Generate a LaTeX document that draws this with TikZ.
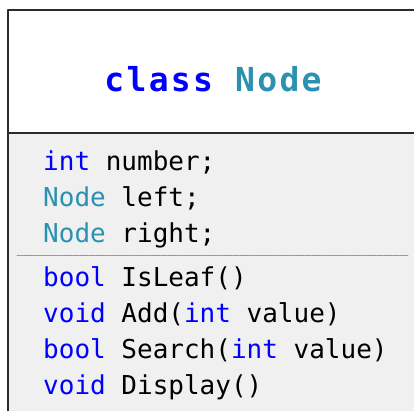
\documentclass[tikz,border=0pt]{standalone}
\usepackage{fontspec}
\usepackage{tikz}
\newfontfamily\codefont{DejaVu Sans Mono}
\newfontfamily\headfont[LetterSpace=7]{DejaVu Sans Mono}
\definecolor{qqqqff}{rgb}{0,0,1}
\definecolor{cbjjaf}{rgb}{0.17,0.57,0.69}
\definecolor{fzfzfz}{rgb}{0.941,0.941,0.941}
\definecolor{sbsbsb}{rgb}{0.17,0.17,0.17}
\definecolor{zzzzzz}{rgb}{0.55,0.55,0.55}
\newcommand{\kw}[1]{\textcolor{qqqqff}{#1}}
\newcommand{\ty}[1]{\textcolor{cbjjaf}{#1}}

\begin{document}
\begin{tikzpicture}[line cap=round,line join=round,x=1pt,y=-1pt,
  codeline/.style={anchor=base west,inner sep=0pt,font=\codefont\fontsize{26}{26}\selectfont}]
\useasboundingbox (0,0) rectangle (414,410);
\clip (0,0) rectangle (414,410);
\fill [color=fzfzfz] (8,133) rectangle (430,430);
\draw [line width=2pt,color=sbsbsb] (8,430) -- (8,10) -- (430,10);
\draw [line width=2pt,color=sbsbsb] (8,133) -- (430,133);
\draw [densely dotted,line width=0.8pt,color=zzzzzz] (17,255) -- (408,255);
\draw (213,91) node[anchor=base,inner sep=0pt,font=\headfont\bfseries\fontsize{33}{33}\selectfont] (head) {\kw{class} \ty{Node}};
% fields
\draw (43,170) node[codeline] (f1) {\kw{int} number;};
\draw (43,206) node[codeline] (f2) {\ty{Node} left;};
\draw (43,242) node[codeline] (f3) {\ty{Node} right;};
% methods
\draw (43,286) node[codeline] (m1) {\kw{bool} IsLeaf()};
\draw (43,322) node[codeline] (m2) {\kw{void} Add(\kw{int} value)};
\draw (43,358) node[codeline] (m3) {\kw{bool} Search(\kw{int} value)};
\draw (43,394) node[codeline] (m4) {\kw{void} Display()};
\end{tikzpicture}
\end{document}
